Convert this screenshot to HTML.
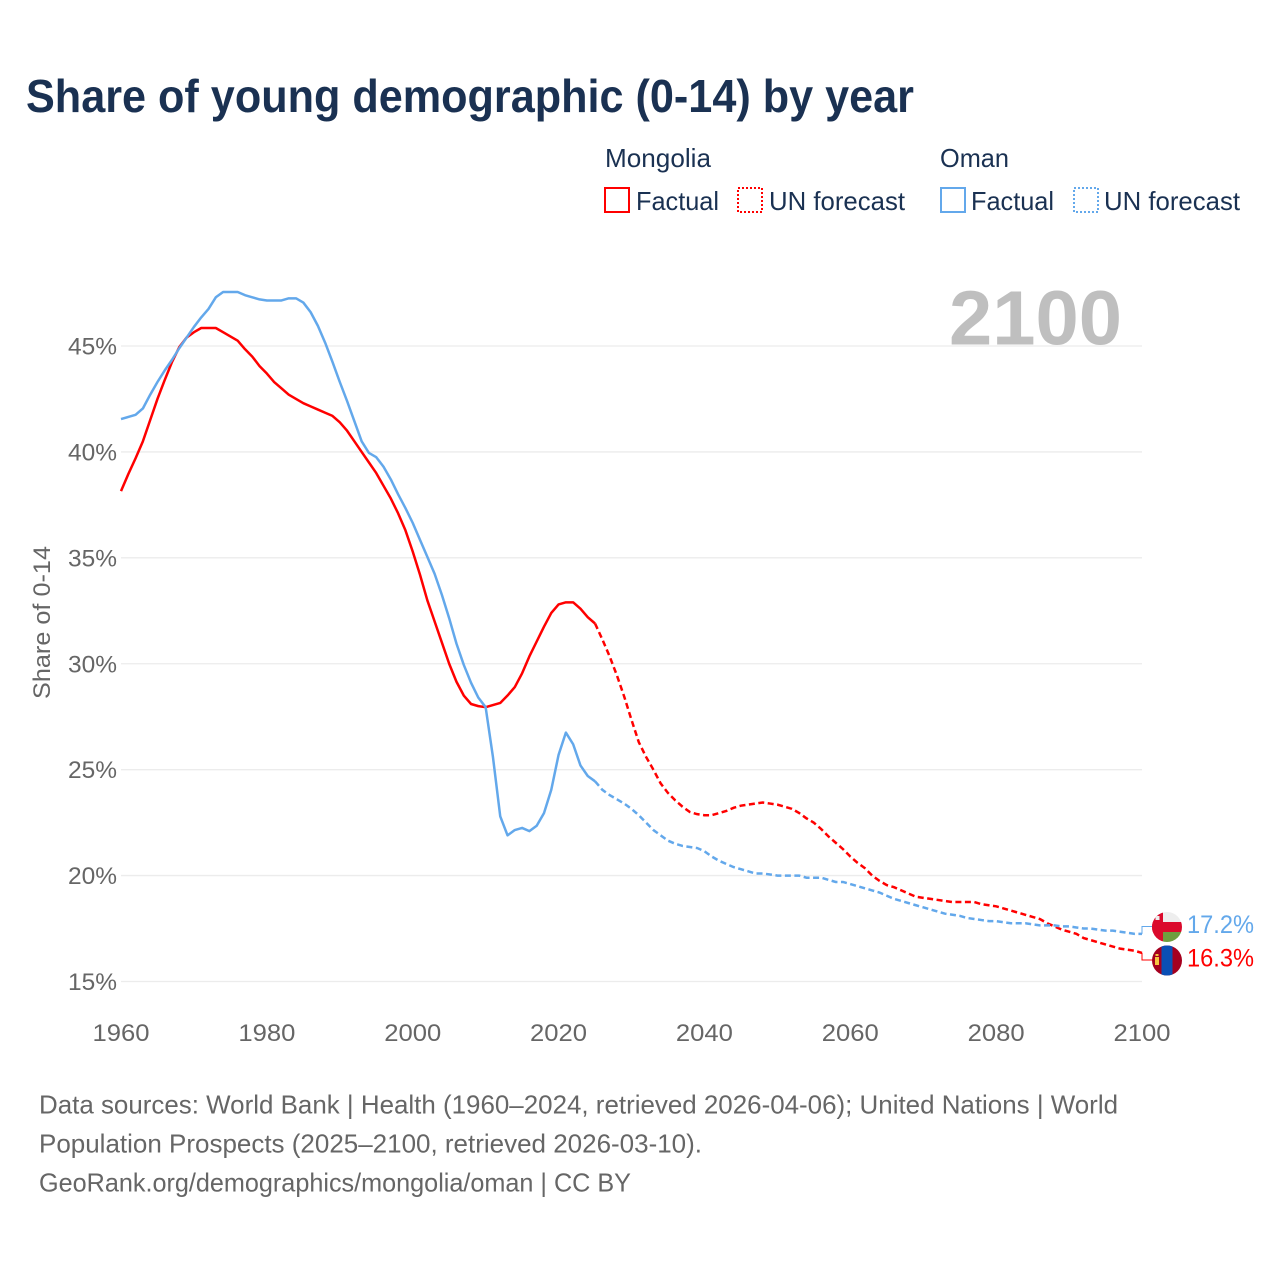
<!DOCTYPE html>
<html lang="en">
<head>
<meta charset="utf-8">
<title>Share of young demographic (0-14) by year</title>
<style>
html,body{margin:0;padding:0;background:#fff;}
svg{display:block;font-family:"Liberation Sans",sans-serif;}
</style>
</head>
<body>
<svg id="chart" xmlns="http://www.w3.org/2000/svg" width="1280" height="1280" viewBox="0 0 1280 1280">
  <rect x="0" y="0" width="1280" height="1280" fill="#ffffff"/>
  <text x="26" y="112" font-size="46" font-weight="700" fill="#1a3152" textLength="888" lengthAdjust="spacingAndGlyphs">Share of young demographic (0-14) by year</text>

  <g font-size="26" fill="#1a3152">
    <text x="605" y="167" textLength="106" lengthAdjust="spacingAndGlyphs">Mongolia</text>
    <text x="940" y="167" textLength="69" lengthAdjust="spacingAndGlyphs">Oman</text>
    <rect x="605" y="188" width="24" height="24" fill="none" stroke="#ff0000" stroke-width="2"/>
    <text x="636" y="210" textLength="83" lengthAdjust="spacingAndGlyphs">Factual</text>
    <rect x="738" y="188" width="24" height="24" fill="none" stroke="#ff0000" stroke-width="2" stroke-dasharray="2 2"/>
    <text x="769" y="210" textLength="136" lengthAdjust="spacingAndGlyphs">UN forecast</text>
    <rect x="941" y="188" width="24" height="24" fill="none" stroke="#63a8eb" stroke-width="2"/>
    <text x="971" y="210" textLength="83" lengthAdjust="spacingAndGlyphs">Factual</text>
    <rect x="1074" y="188" width="24" height="24" fill="none" stroke="#63a8eb" stroke-width="2" stroke-dasharray="2 2"/>
    <text x="1104" y="210" textLength="136" lengthAdjust="spacingAndGlyphs">UN forecast</text>
  </g>

  <g id="grid"></g>
  <text x="949" y="344.5" font-size="77" font-weight="700" fill="#bfbfbf" textLength="173" lengthAdjust="spacingAndGlyphs">2100</text>
  <g id="yticks" font-size="24" fill="#666666"></g>
  <g id="xticks" font-size="24" fill="#666666"></g>
  <text transform="translate(50,699) rotate(-90)" x="0" y="0" font-size="24" fill="#666666" textLength="153" lengthAdjust="spacingAndGlyphs">Share of 0-14</text>
  <g id="series"></g>

  <defs>
    <clipPath id="clip-oman"><circle cx="1167" cy="927" r="15"/></clipPath>
    <clipPath id="clip-mongolia"><circle cx="1167" cy="960.5" r="15"/></clipPath>
  </defs>
  <g id="connectors"></g>
  <g clip-path="url(#clip-oman)">
    <rect x="1152" y="912" width="30" height="10" fill="#eeeeee"/>
    <rect x="1152" y="922" width="30" height="10" fill="#db0a2c"/>
    <rect x="1163" y="932" width="19" height="10" fill="#6f9e3f"/>
    <rect x="1152" y="912" width="11" height="30" fill="#db0a2c"/>
    <rect x="1155.5" y="916" width="4" height="4" fill="#eeeeee"/>
  </g>
  <g clip-path="url(#clip-mongolia)">
    <rect x="1152" y="945" width="30" height="31" fill="#a5001f"/>
    <rect x="1161.5" y="945" width="11" height="31" fill="#0a4fb5"/>
    <rect x="1155.5" y="954" width="3" height="2" fill="#f5c542"/>
    <rect x="1155" y="957" width="4" height="8" fill="#f5c542"/>
  </g>
  <g id="endlabels" font-size="25"></g>

  <g font-size="26" fill="#666666">
    <text x="39" y="1113.5" textLength="1079" lengthAdjust="spacingAndGlyphs">Data sources: World Bank | Health (1960–2024, retrieved 2026-04-06); United Nations | World</text>
    <text x="39" y="1152.5" textLength="663" lengthAdjust="spacingAndGlyphs">Population Prospects (2025–2100, retrieved 2026-03-10).</text>
    <text x="39" y="1191.5" textLength="592" lengthAdjust="spacingAndGlyphs">GeoRank.org/demographics/mongolia/oman | CC BY</text>
  </g>
</svg>
<script>
const xTickYears = [1960, 1980, 2000, 2020, 2040, 2060, 2080, 2100];
const yTickValues = [15, 20, 25, 30, 35, 40, 45];
const factualStartYear = 1960;
const forecastStartYear = 2025;
const endLabelOman = "17.2%";
const endLabelMongolia = "16.3%";

const mongoliaFactual = [
38.15,38.95,39.7,40.5,41.5,42.5,43.4,44.25,44.95,45.4,
45.65,45.85,45.85,45.85,45.65,45.45,45.25,44.85,44.5,44.05,
43.7,43.3,43.0,42.7,42.5,42.3,42.15,42.0,41.85,41.7,
41.4,41.0,40.5,40.0,39.5,39.0,38.4,37.8,37.1,36.3,
35.3,34.2,33.0,32.0,31.0,30.0,29.15,28.5,28.1,28.0,
27.95,28.05,28.15,28.5,28.9,29.55,30.35,31.05,31.75,32.4,
32.8,32.9,32.9,32.6,32.2
];
const mongoliaForecast = [
31.9,31.15,30.35,29.45,28.45,27.35,26.3,25.6,25.0,24.35,
23.9,23.55,23.25,23.0,22.9,22.85,22.85,22.95,23.05,23.2,
23.3,23.35,23.4,23.45,23.4,23.35,23.25,23.15,22.95,22.7,
22.5,22.2,21.85,21.55,21.25,20.9,20.6,20.35,20.0,19.75,
19.55,19.45,19.3,19.15,19.0,18.95,18.9,18.85,18.8,18.75,
18.75,18.75,18.75,18.65,18.6,18.55,18.45,18.35,18.25,18.15,
18.05,17.95,17.75,17.6,17.45,17.35,17.25,17.05,16.95,16.85,
16.75,16.65,16.55,16.5,16.45,16.35
];
const omanFactual = [
41.55,41.65,41.75,42.05,42.7,43.3,43.85,44.35,44.9,45.4,
45.9,46.35,46.75,47.3,47.55,47.55,47.55,47.4,47.3,47.2,
47.15,47.15,47.15,47.25,47.25,47.05,46.6,45.95,45.15,44.25,
43.3,42.4,41.45,40.5,39.95,39.75,39.3,38.7,38.0,37.35,
36.65,35.85,35.05,34.25,33.25,32.15,30.95,29.95,29.1,28.4,
27.95,25.6,22.8,21.9,22.15,22.25,22.1,22.35,22.95,24.05,
25.7,26.75,26.2,25.2,24.7
];
const omanForecast = [
24.45,24.05,23.8,23.6,23.4,23.15,22.85,22.5,22.15,21.9,
21.65,21.5,21.4,21.35,21.3,21.15,20.9,20.7,20.55,20.4,
20.3,20.2,20.1,20.1,20.05,20.0,20.0,20.0,20.0,19.9,
19.9,19.9,19.8,19.7,19.7,19.6,19.5,19.4,19.3,19.2,
19.05,18.9,18.8,18.7,18.6,18.5,18.4,18.3,18.2,18.15,
18.1,18.0,17.95,17.9,17.85,17.85,17.8,17.75,17.75,17.75,
17.7,17.65,17.65,17.65,17.6,17.6,17.55,17.5,17.5,17.45,
17.4,17.4,17.35,17.3,17.25,17.25
];

const NS = "http://www.w3.org/2000/svg";
const RED = "#ff0000";
const BLUE = "#63a8eb";

function xScale(year) { return 121 + (year - 1960) * (1142 - 121) / 140; }
function yScale(value) { return 981.5 - (value - 15) * (981.5 - 346) / 30; }

function make(tag, parentId) {
  const el = document.createElementNS(NS, tag);
  document.getElementById(parentId).appendChild(el);
  return el;
}

function pathFrom(values, startYear) {
  return values.map(function (v, i) {
    return (i === 0 ? "M" : "L") + xScale(startYear + i).toFixed(2) + " " + yScale(v).toFixed(2);
  }).join(" ");
}

yTickValues.forEach(function (value) {
  const line = make("line", "grid");
  
  
  line.setAttribute("x1", xScale(1960));
  line.setAttribute("x2", xScale(2100));
  line.setAttribute("y1", yScale(value));
  line.setAttribute("y2", yScale(value));
  line.setAttribute("stroke", "#ececec");
  line.setAttribute("stroke-width", "1.3");

  const label = make("text", "yticks");
  
  
  label.setAttribute("x", 117);
  label.setAttribute("y", yScale(value) + 8.5);
  label.setAttribute("text-anchor", "end");
  label.setAttribute("textLength", 49);
  label.setAttribute("lengthAdjust", "spacingAndGlyphs");
  label.textContent = value + "%";
});

xTickYears.forEach(function (year) {
  const label = make("text", "xticks");
  
  
  label.setAttribute("x", xScale(year));
  label.setAttribute("y", 1041);
  label.setAttribute("text-anchor", "middle");
  label.setAttribute("textLength", 57);
  label.setAttribute("lengthAdjust", "spacingAndGlyphs");
  label.textContent = year;
});

function drawSeries(name, factual, forecast, color) {
  const solid = make("path", "series");
  
  
  solid.setAttribute("d", pathFrom(factual.concat([forecast[0]]), factualStartYear));
  solid.setAttribute("fill", "none");
  solid.setAttribute("stroke", color);
  solid.setAttribute("stroke-width", "2.5");
  solid.setAttribute("stroke-linejoin", "round");

  const dashed = make("path", "series");
  
  
  dashed.setAttribute("d", pathFrom(forecast, forecastStartYear));
  dashed.setAttribute("fill", "none");
  dashed.setAttribute("stroke", color);
  dashed.setAttribute("stroke-width", "2.5");
  dashed.setAttribute("stroke-dasharray", "6 3.5");
}

drawSeries("mongolia", mongoliaFactual, mongoliaForecast, RED);
drawSeries("oman", omanFactual, omanForecast, BLUE);

function drawEnd(name, forecast, color, flagY, text) {
  const endX = xScale(2100);
  const endY = yScale(forecast[forecast.length - 1]);
  const link = make("path", "connectors");
  
  
  link.setAttribute("d", "M" + endX + " " + endY + " V" + flagY + " H1153");
  link.setAttribute("fill", "none");
  link.setAttribute("stroke", color);
  link.setAttribute("stroke-width", "1");

  const label = make("text", "endlabels");
  
  
  label.setAttribute("x", 1187);
  label.setAttribute("y", flagY + 6.5);
  label.setAttribute("fill", color);
  label.setAttribute("textLength", 67);
  label.setAttribute("lengthAdjust", "spacingAndGlyphs");
  label.textContent = text;
}

drawEnd("oman", omanForecast, BLUE, 926.5, endLabelOman);
drawEnd("mongolia", mongoliaForecast, RED, 960, endLabelMongolia);
</script>
</body>
</html>
